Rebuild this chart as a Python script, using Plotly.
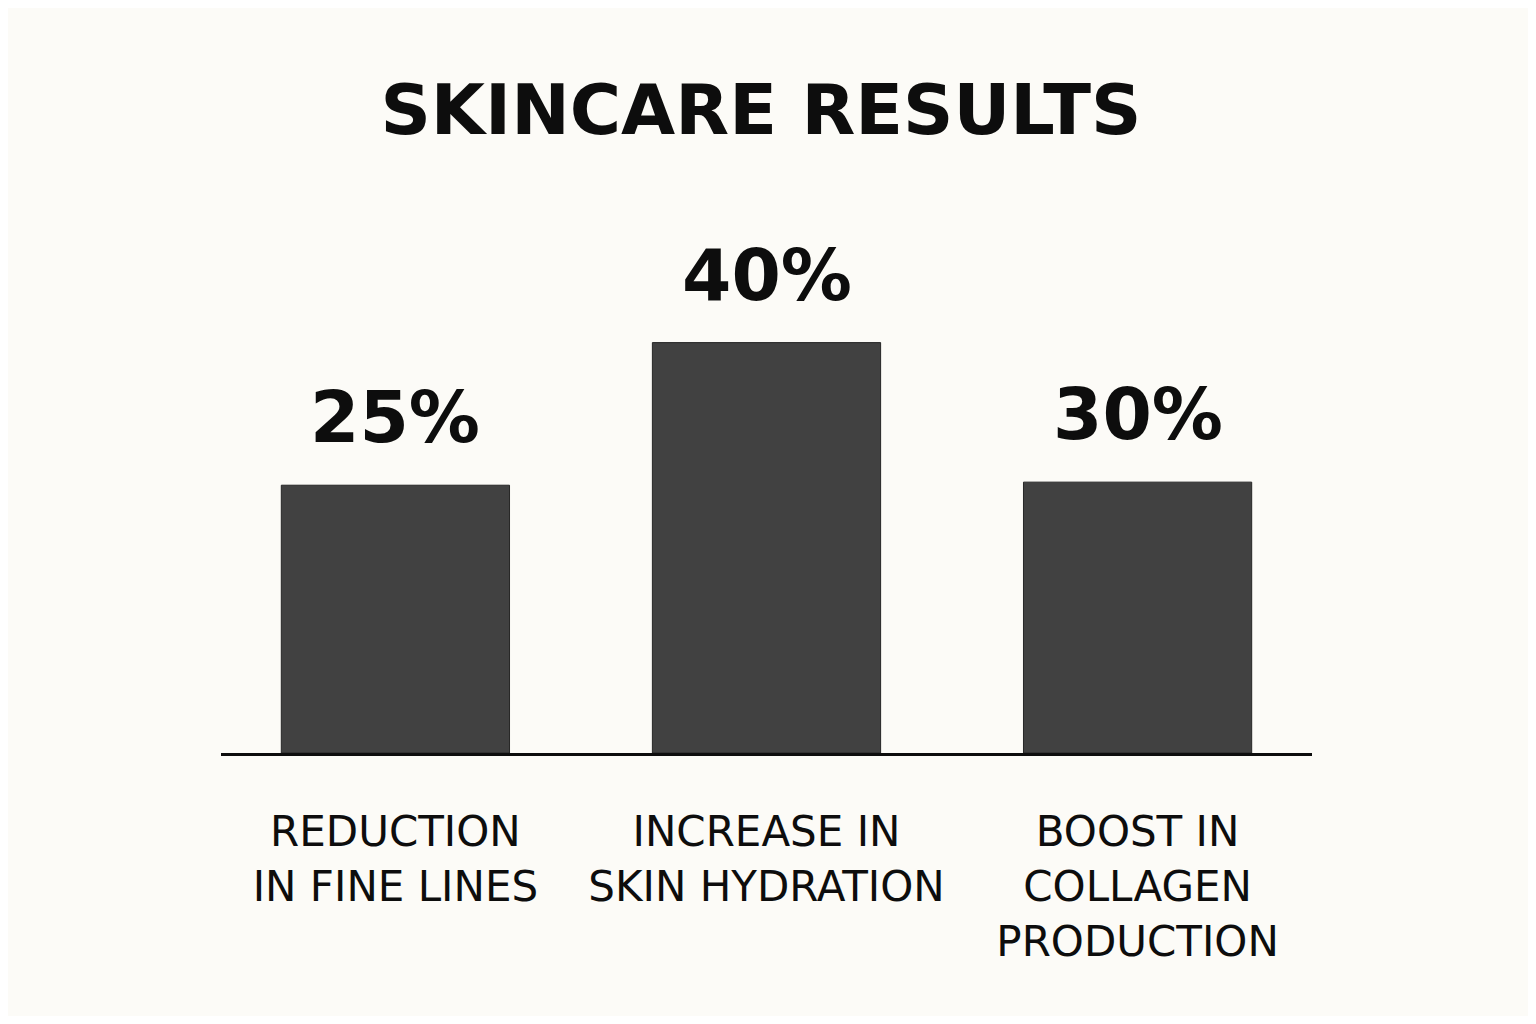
import plotly.graph_objects as go

# categorieen en waarden
categories = ["REDUCTION<br>IN FINE LINES", "INCREASE IN<br>SKIN HYDRATION", "BOOST IN<br>COLLAGEN<br>PRODUCTION"]
bar_heights = [26.1, 40.0, 26.4]   # zoals getekend in de grafiek
value_labels = ["25%", "40%", "30%"]

bg = "#fcfbf7"
ink = "#0d0d0d"
fnt = "DejaVu Sans"

# pagina heeft 8px marge, figuur dus iets kleiner
W, H = 1520, 1008

fig = go.Figure()
fig.add_trace(go.Bar(
    x=[0, 1, 2], y=bar_heights,
    width=0.615,
    marker=dict(color="#414141", line=dict(color="#262626", width=1)),
    hoverinfo="skip"))

# percentages boven de balken
for i, (h, lab) in enumerate(zip(bar_heights, value_labels)):
    fig.add_annotation(x=i, y=h, text=lab, showarrow=False,
                       yanchor="bottom", yshift=24,
                       font=dict(family=fnt, size=71, color=ink, weight="bold"))

fig.update_layout(
    width=W, height=H,
    paper_bgcolor=bg, plot_bgcolor=bg,
    margin=dict(l=213, r=216, t=232, b=263),
    showlegend=False,
    title=dict(text="SKINCARE RESULTS", x=753/W, xanchor="center",
               y=1-126/H, yanchor="bottom", yref="container",
               font=dict(family=fnt, size=70, color=ink, weight="bold")))
fig.update_xaxes(
    range=[-0.47, 2.47], tickvals=[0, 1, 2], ticktext=categories,
    showgrid=False, zeroline=False, showline=True, linecolor=ink, linewidth=3,
    ticks="", ticklabelstandoff=40,
    tickfont=dict(family=fnt, size=42, color=ink))
fig.update_yaxes(range=[0, 50], visible=False, showgrid=False)

fig.write_html("out.html")
